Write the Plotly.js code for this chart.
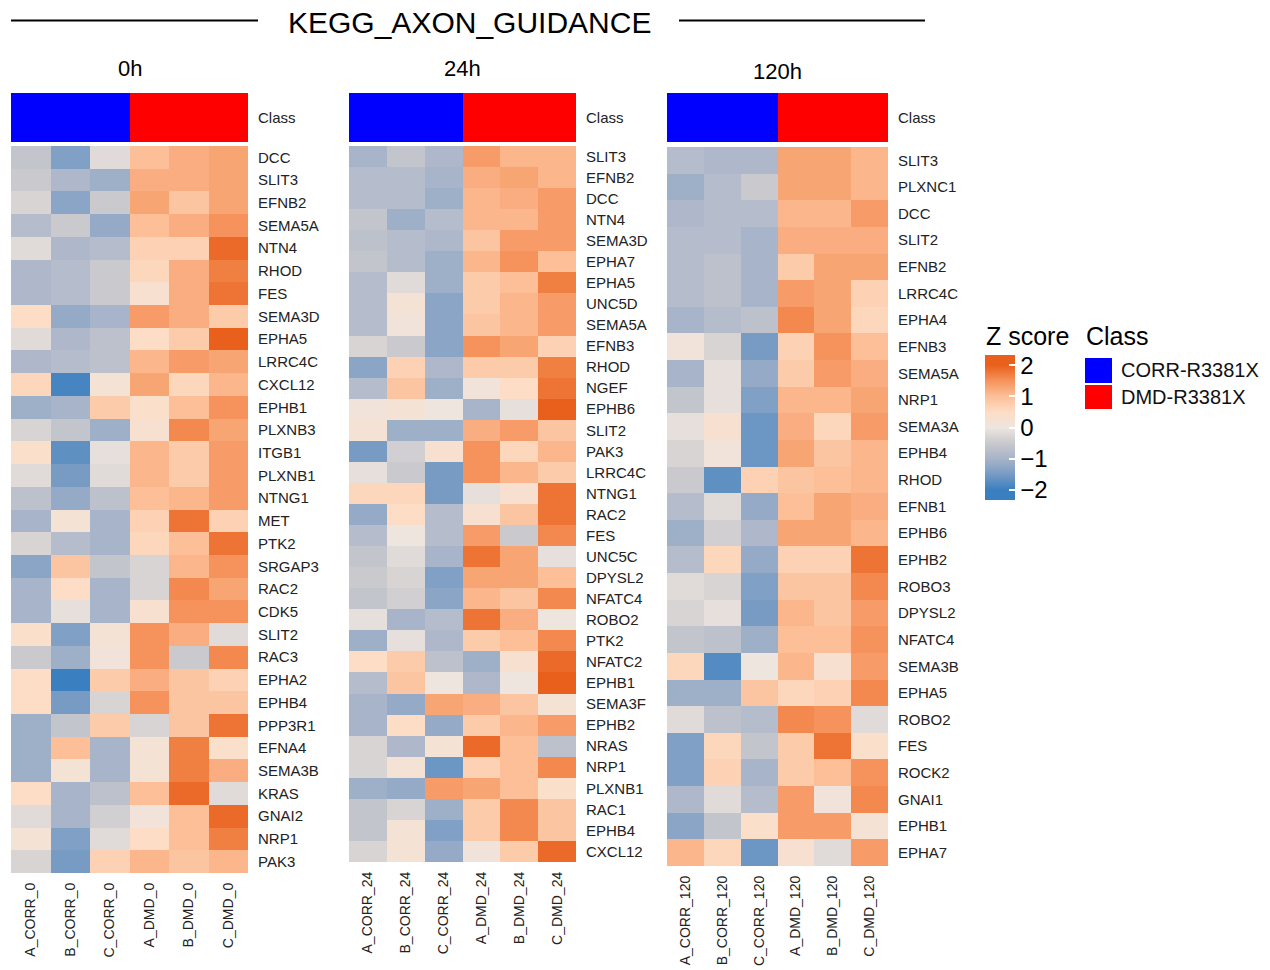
<!DOCTYPE html>
<html>
<head>
<meta charset="utf-8">
<script src="https://cdn.plot.ly/plotly-3.0.1.min.js"></script>
<style>html,body{margin:0;padding:0;background:#fff;}#chart{width:1270px;height:970px;}</style>
</head>
<body>
<div id="chart"></div>
<script>
// ---------------- DATA ----------------
const chartTitle = 'KEGG_AXON_GUIDANCE';
const panelTitles = ['0h', '24h', '120h'];
const classNames = ['CORR-R3381X', 'DMD-R3381X'];
const sampleClass = [0, 0, 0, 1, 1, 1];

const samples0h = ['A_CORR_0', 'B_CORR_0', 'C_CORR_0', 'A_DMD_0', 'B_DMD_0', 'C_DMD_0'];
const samples24h = ['A_CORR_24', 'B_CORR_24', 'C_CORR_24', 'A_DMD_24', 'B_DMD_24', 'C_DMD_24'];
const samples120h = ['A_CORR_120', 'B_CORR_120', 'C_CORR_120', 'A_DMD_120', 'B_DMD_120', 'C_DMD_120'];

const genes0h = ['DCC','SLIT3','EFNB2','SEMA5A','NTN4','RHOD','FES','SEMA3D','EPHA5','LRRC4C','CXCL12','EPHB1','PLXNB3','ITGB1','PLXNB1','NTNG1','MET','PTK2','SRGAP3','RAC2','CDK5','SLIT2','RAC3','EPHA2','EPHB4','PPP3R1','EFNA4','SEMA3B','KRAS','GNAI2','NRP1','PAK3'];
const z0h = [
  [-0.6,-1.4,-0.2, 1.0, 1.2, 1.3],
  [-0.5,-0.9,-1.1, 1.2, 1.2, 1.3],
  [-0.3,-1.3,-0.5, 1.3, 0.9, 1.3],
  [-0.8,-0.5,-1.2, 1.0, 1.2, 1.5],
  [-0.2,-0.9,-0.8, 0.7, 0.7, 1.9],
  [-0.9,-0.8,-0.5, 0.6, 1.2, 1.7],
  [-0.9,-0.8,-0.5, 0.3, 1.2, 1.8],
  [ 0.5,-1.2,-1.0, 1.4, 1.2, 0.8],
  [-0.2,-0.9,-0.7, 0.5, 0.8, 2.0],
  [-0.9,-0.8,-0.7, 1.1, 1.4, 1.3],
  [ 0.6,-1.9, 0.2, 1.3, 0.6, 1.1],
  [-1.1,-1.0, 0.8, 0.4, 1.0, 1.5],
  [-0.3,-0.6,-1.1, 0.3, 1.6, 1.3],
  [ 0.4,-1.7,-0.1, 1.1, 0.8, 1.4],
  [-0.2,-1.5,-0.2, 1.1, 0.8, 1.4],
  [-0.7,-1.2,-0.7, 1.0, 1.1, 1.4],
  [-1.0, 0.2,-1.0, 0.7, 1.8, 0.7],
  [-0.3,-0.8,-1.0, 0.6, 1.0, 1.8],
  [-1.3, 0.9,-0.6,-0.3, 1.1, 1.5],
  [-1.0, 0.5,-1.0,-0.3, 1.6, 1.3],
  [-1.0,-0.1,-1.0, 0.3, 1.5, 1.5],
  [ 0.4,-1.4, 0.2, 1.5, 1.2,-0.2],
  [-0.5,-1.1, 0.1, 1.5,-0.5, 1.6],
  [ 0.5,-2.0, 0.8, 1.2, 0.9, 0.7],
  [ 0.5,-1.5,-0.3, 1.5, 0.9, 0.9],
  [-1.1,-0.6, 0.8,-0.3, 0.9, 1.8],
  [-1.1, 1.0,-1.0, 0.2, 1.7, 0.4],
  [-1.1, 0.2,-1.0, 0.2, 1.7, 1.2],
  [ 0.5,-1.0,-0.7, 1.0, 1.9,-0.2],
  [-0.2,-1.0,-0.4, 0.1, 1.0, 1.9],
  [ 0.2,-1.4,-0.2, 0.5, 1.0, 1.7],
  [-0.3,-1.5, 0.7, 1.1, 0.9, 1.1]
];

const genes24h = ['SLIT3','EFNB2','DCC','NTN4','SEMA3D','EPHA7','EPHA5','UNC5D','SEMA5A','EFNB3','RHOD','NGEF','EPHB6','SLIT2','PAK3','LRRC4C','NTNG1','RAC2','FES','UNC5C','DPYSL2','NFATC4','ROBO2','PTK2','NFATC2','EPHB1','SEMA3F','EPHB2','NRAS','NRP1','PLXNB1','RAC1','EPHB4','CXCL12'];
const z24h = [
  [-1.0,-0.6,-0.9, 1.4, 1.1, 1.1],
  [-0.8,-0.8,-1.0, 1.2, 1.3, 1.1],
  [-0.8,-0.8,-1.1, 1.1, 1.2, 1.4],
  [-0.6,-1.1,-0.8, 1.1, 1.1, 1.4],
  [-0.7,-0.8,-0.9, 0.9, 1.4, 1.4],
  [-0.6,-0.8,-1.1, 1.1, 1.5, 1.0],
  [-0.8,-0.2,-1.1, 0.8, 1.0, 1.7],
  [-0.8, 0.2,-1.3, 0.8, 1.1, 1.4],
  [-0.8, 0.1,-1.3, 0.9, 1.1, 1.4],
  [-0.3,-0.5,-1.3, 1.5, 1.3, 0.7],
  [-1.3, 0.7,-0.9, 0.8, 0.8, 1.7],
  [-0.8, 0.9,-1.1, 0.1, 0.5, 1.8],
  [ 0.1, 0.2, 0.0,-1.0,-0.1, 2.0],
  [ 0.2,-1.1,-1.1, 1.2, 1.4, 0.9],
  [-1.5,-0.4, 0.3, 1.5, 0.6, 1.1],
  [-0.1,-0.5,-1.5, 1.5, 1.1, 0.8],
  [ 0.6, 0.6,-1.5,-0.1, 0.3, 1.8],
  [-1.2, 0.5,-0.8, 0.3, 0.9, 1.8],
  [-0.8, 0.0,-0.8, 1.4,-0.5, 1.6],
  [-0.6,-0.2,-1.0, 1.8, 1.3,-0.1],
  [-0.5,-0.3,-1.4, 1.3, 1.3, 1.0],
  [-0.6,-0.4,-1.3, 1.1, 0.9, 1.6],
  [-0.1,-1.0,-0.8, 1.8, 1.2, 0.0],
  [-1.1,-0.1,-0.9, 0.8, 1.0, 1.6],
  [ 0.5, 0.8,-0.7,-1.1, 0.3, 1.9],
  [-0.8, 0.9, 0.0,-0.9, 0.0, 2.0],
  [-1.0,-1.2, 1.3, 1.2, 0.9, 0.2],
  [-1.0, 0.5,-1.2, 0.8, 1.1, 1.4],
  [-0.3,-0.9, 0.2, 1.9, 1.0,-0.7],
  [-0.3, 0.2,-1.6, 0.7, 1.0, 1.6],
  [-1.1,-1.2, 1.4, 1.3, 1.0, 0.4],
  [-0.6,-0.3,-1.1, 0.8, 1.6, 0.9],
  [-0.6, 0.2,-1.4, 0.8, 1.6, 0.9],
  [-0.3, 0.2,-1.2, 0.1, 0.8, 1.9]
];

const genes120h = ['SLIT3','PLXNC1','DCC','SLIT2','EFNB2','LRRC4C','EPHA4','EFNB3','SEMA5A','NRP1','SEMA3A','EPHB4','RHOD','EFNB1','EPHB6','EPHB2','ROBO3','DPYSL2','NFATC4','SEMA3B','EPHA5','ROBO2','FES','ROCK2','GNAI1','EPHB1','EPHA7'];
const z120h = [
  [-0.8,-0.9,-0.9, 1.3, 1.3, 1.1],
  [-1.1,-0.8,-0.5, 1.3, 1.3, 1.1],
  [-0.9,-0.8,-0.8, 1.1, 1.1, 1.4],
  [-0.8,-0.8,-1.0, 1.2, 1.2, 1.2],
  [-0.8,-0.7,-1.0, 0.8, 1.3, 1.3],
  [-0.8,-0.7,-1.0, 1.4, 1.3, 0.7],
  [-1.0,-0.8,-0.7, 1.6, 1.3, 0.6],
  [ 0.1,-0.3,-1.5, 0.7, 1.5, 1.0],
  [-1.0,-0.1,-1.2, 0.8, 1.4, 1.2],
  [-0.6,-0.1,-1.4, 1.1, 1.1, 1.3],
  [-0.1, 0.3,-1.6, 1.2, 0.6, 1.4],
  [-0.3, 0.1,-1.6, 1.3, 0.9, 1.1],
  [-0.5,-1.7, 0.7, 0.9, 1.0, 1.1],
  [-0.8,-0.2,-1.2, 1.0, 1.3, 1.2],
  [-1.1,-0.4,-0.9, 1.3, 1.3, 1.1],
  [-0.8, 0.6,-1.2, 0.7, 0.7, 1.8],
  [-0.2,-0.3,-1.4, 0.9, 0.9, 1.6],
  [-0.3,-0.1,-1.5, 1.1, 0.9, 1.4],
  [-0.6,-0.7,-1.1, 1.0, 1.0, 1.5],
  [ 0.6,-1.8, 0.0, 1.1, 0.3, 1.4],
  [-1.1,-1.1, 0.9, 0.6, 0.7, 1.6],
  [-0.2,-0.7,-0.8, 1.6, 1.5,-0.2],
  [-1.4, 0.6,-0.6, 0.8, 1.8, 0.4],
  [-1.4, 0.7,-1.0, 0.8, 1.0, 1.5],
  [-0.9,-0.2,-0.8, 1.4, 0.1, 1.6],
  [-1.3,-0.6, 0.4, 1.4, 1.4, 0.2],
  [ 1.1, 0.6,-1.6, 0.3,-0.2, 1.4]
];

const zTicks = [-2, -1, 0, 1, 2];
const zTickText = ['\u22122', '\u22121', '0', '1', '2'];
const zTitle = 'Z score';
const classTitle = 'Class';

// ---------------- STYLE ----------------
const W = 1270, H = 970;
const FONT = 'Liberation Sans, Arial, Helvetica, sans-serif';
const ZLIM = 2.33;
const zStops = [
  [-2.0, '#3A80C0'],
  [-1.5, '#789BC4'],
  [-1.0, '#A7B4C9'],
  [-0.5, '#CAC9CE'],
  [ 0.0, '#EEE5DE'],
  [ 0.5, '#FDDDC5'],
  [ 1.0, '#FCBF98'],
  [ 1.5, '#F6935C'],
  [ 2.0, '#E8601C']
];
const colorscale = [[0, zStops[0][1]]].concat(zStops.map(s => [(s[0] + ZLIM) / (2 * ZLIM), s[1]])).concat([[1, zStops[zStops.length - 1][1]]]);
const classColors = ['#0000FF', '#FF0000'];
const classScale = [[0, classColors[0]], [0.5, classColors[0]], [0.5, classColors[1]], [1, classColors[1]]];

const px = v => v / W;
const py = v => 1 - v / H;

const panels = [
  {samples: samples0h, genes: genes0h, z: z0h, x0: 11, x1: 248, y0: 146, y1: 873, title: panelTitles[0], ty: 69},
  {samples: samples24h, genes: genes24h, z: z24h, x0: 349, x1: 576, y0: 146, y1: 862, title: panelTitles[1], ty: 69},
  {samples: samples120h, genes: genes120h, z: z120h, x0: 667, x1: 888, y0: 147, y1: 866, title: panelTitles[2], ty: 72}
];

const traces = [];
const layout = {
  width: W, height: H,
  margin: {l: 0, r: 0, t: 0, b: 0},
  paper_bgcolor: '#fff', plot_bgcolor: '#fff',
  font: {family: FONT, color: '#000'},
  showlegend: false,
  annotations: [],
  shapes: []
};

panels.forEach((p, i) => {
  const hx = 2 * i + 1, cx = 2 * i + 2;
  const hxs = hx === 1 ? '' : String(hx);
  const tr = {
    type: 'heatmap', x: p.samples, y: p.genes, z: p.z,
    xaxis: 'x' + hxs, yaxis: 'y' + hxs,
    colorscale: colorscale, zmin: -ZLIM, zmax: ZLIM,
    showscale: i === 0, hoverinfo: 'x+y+z'
  };
  if (i === 0) {
    tr.colorbar = {
      x: px(985), xanchor: 'left', xref: 'paper',
      y: py(427.5), yanchor: 'middle', yref: 'paper',
      len: 145, lenmode: 'pixels', thickness: 30, thicknessmode: 'pixels',
      outlinewidth: 0, xpad: 0, ypad: 0,
      tickvals: zTicks, ticktext: zTickText,
      ticks: 'inside', ticklen: 6, tickcolor: '#fff', tickwidth: 1.5,
      ticklabelstandoff: 2,
      tickfont: {size: 24, family: FONT, color: '#000'}
    };
  }
  traces.push(tr);
  layout['xaxis' + hxs] = {
    domain: [px(p.x0), px(p.x1)], anchor: 'y' + hxs, type: 'category',
    tickangle: -90, ticks: '', showgrid: false, zeroline: false, showline: false,
    tickfont: {size: 14, family: FONT, color: '#222'}, ticklabelstandoff: 6, fixedrange: true
  };
  layout['yaxis' + hxs] = {
    domain: [py(p.y1), py(p.y0)], anchor: 'x' + hxs, type: 'category',
    side: 'right', autorange: 'reversed', ticks: '', showgrid: false, zeroline: false, showline: false,
    tickfont: {size: 15, family: FONT, color: '#222'}, ticklabelstandoff: 9, fixedrange: true
  };
  traces.push({
    type: 'heatmap', x: p.samples, y: [classTitle], z: [sampleClass],
    xaxis: 'x' + cx, yaxis: 'y' + cx,
    colorscale: classScale, zmin: 0, zmax: 1, showscale: false,
    text: [sampleClass.map(c => classNames[c])], hoverinfo: 'x+text'
  });
  layout['xaxis' + cx] = {
    domain: [px(p.x0), px(p.x1)], anchor: 'y' + cx, type: 'category',
    showticklabels: false, ticks: '', showgrid: false, zeroline: false, showline: false, fixedrange: true
  };
  layout['yaxis' + cx] = {
    domain: [py(142), py(93)], anchor: 'x' + cx, type: 'category',
    side: 'right', ticks: '', showgrid: false, zeroline: false, showline: false,
    tickfont: {size: 15, family: FONT, color: '#222'}, ticklabelstandoff: 9, fixedrange: true
  };
  layout.annotations.push({
    text: p.title, xref: 'paper', yref: 'paper',
    x: px((p.x0 + p.x1) / 2), y: py(p.ty), xanchor: 'center', yanchor: 'middle',
    showarrow: false, font: {size: 22, family: FONT, color: '#000'}
  });
});

// class legend as a small heatmap
traces.push({
  type: 'heatmap', x: [classTitle], y: classNames, z: [[0], [1]],
  xaxis: 'x7', yaxis: 'y7', colorscale: classScale, zmin: 0, zmax: 1,
  showscale: false, ygap: 2, hoverinfo: 'y'
});
layout.xaxis7 = {
  domain: [px(1085), px(1112)], anchor: 'y7', type: 'category',
  showticklabels: false, ticks: '', showgrid: false, zeroline: false, showline: false, fixedrange: true
};
layout.yaxis7 = {
  domain: [py(410), py(357)], anchor: 'x7', type: 'category', autorange: 'reversed',
  side: 'right', ticks: '', showgrid: false, zeroline: false, showline: false,
  tickfont: {size: 20, family: FONT, color: '#111'}, ticklabelstandoff: 8, fixedrange: true
};
layout.annotations.push(
  {text: classTitle, xref: 'paper', yref: 'paper', x: px(1084), y: py(336),
   xanchor: 'left', yanchor: 'middle', showarrow: false, font: {size: 25, family: FONT, color: '#000'}},
  {text: zTitle, xref: 'paper', yref: 'paper', x: px(984), y: py(336),
   xanchor: 'left', yanchor: 'middle', showarrow: false, font: {size: 25, family: FONT, color: '#000'}}
);

// main title with side rules
layout.annotations.push({
  text: chartTitle, xref: 'paper', yref: 'paper', x: px(469), y: py(22),
  xanchor: 'center', yanchor: 'middle', showarrow: false,
  font: {size: 30, family: FONT, color: '#000'}
});
layout.shapes.push(
  {type: 'line', xref: 'paper', yref: 'paper', x0: px(11), x1: px(258), y0: py(20.5), y1: py(20.5), line: {color: '#000', width: 2}},
  {type: 'line', xref: 'paper', yref: 'paper', x0: px(679), x1: px(925), y0: py(20.5), y1: py(20.5), line: {color: '#000', width: 2}}
);

Plotly.newPlot('chart', traces, layout, {displayModeBar: false, responsive: false});
</script>
</body>
</html>
